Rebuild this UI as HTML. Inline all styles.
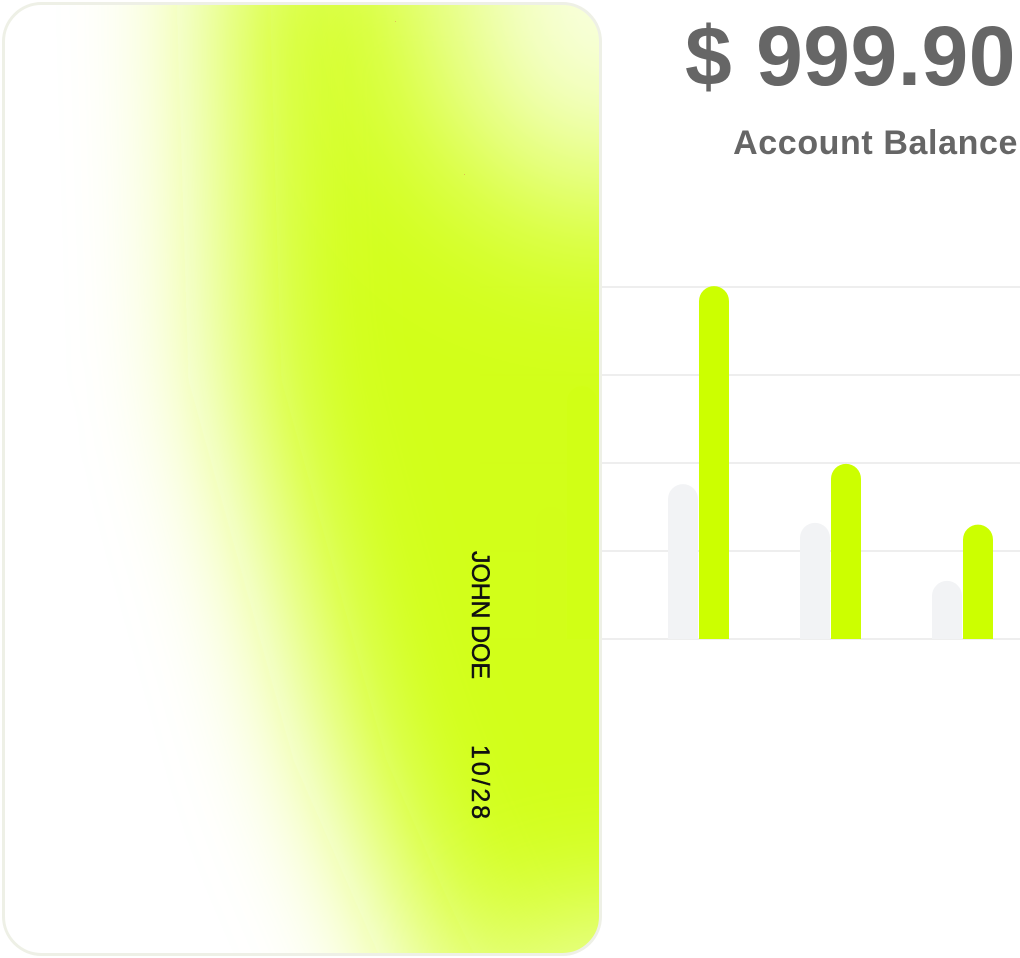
<!DOCTYPE html>
<html><head><meta charset="utf-8"><style>
html,body{margin:0;padding:0;background:#fff;}
body{width:1020px;height:958px;position:relative;overflow:hidden;font-family:"Liberation Sans",sans-serif;}
#amount{position:absolute;right:4px;top:14px;font-size:84px;font-weight:bold;color:#666;line-height:1;white-space:nowrap;letter-spacing:0.5px;}
#label{position:absolute;right:2px;top:126px;font-size:34px;font-weight:bold;color:#666;line-height:1;white-space:nowrap;letter-spacing:0.6px;}
svg{position:absolute;left:0;top:0;display:block;}
</style></head><body>
<div id="amount">$ 999.90</div>
<div id="label">Account Balance</div>
<svg id="chart" width="1020" height="958"></svg>
<svg width="1020" height="958">
<defs>
<clipPath id="cc"><rect x="3.5" y="3.5" width="597" height="951" rx="38"/></clipPath>
<filter id="bl" filterUnits="userSpaceOnUse" x="-500" y="-500" width="2000" height="2000"><feGaussianBlur stdDeviation="70"/></filter>
<filter id="bl2" filterUnits="userSpaceOnUse" x="-500" y="-500" width="2000" height="2000"><feGaussianBlur stdDeviation="90"/></filter>
</defs>
<g clip-path="url(#cc)" opacity="0.985">
<rect x="0" y="0" width="610" height="960" fill="#fff"/>
<polygon points="220,-100 800,-100 800,1000 480,1080 340,760 235,380" fill="#d2ff14" filter="url(#bl)"/>
<ellipse cx="610" cy="0" rx="180" ry="200" fill="#fff" filter="url(#bl2)" opacity="0.9"/>
<ellipse cx="620" cy="990" rx="150" ry="80" fill="#fff" filter="url(#bl)" opacity="0.6"/>
</g>
<rect x="3.5" y="3.5" width="597" height="951" rx="38" fill="none" stroke="#eef0e6" stroke-width="3"/>
<text transform="translate(472,551) rotate(90)" font-family="Liberation Sans" font-size="25" fill="#111" stroke="#111" stroke-width="0.5" textLength="128">JOHN DOE</text>
<text transform="translate(472,745) rotate(90)" font-family="Liberation Sans" font-size="25" fill="#111" stroke="#111" stroke-width="0.5" textLength="74">10/28</text>
</svg>
<script>
const categories=["g1","g2","g3","g4"];
const grayValues=[1.5,1.76,1.32,0.66];
const greenValues=[2.875,4.01,1.99,1.3];
const gridTicks=[0,1,2,3,4];
const NS="http://www.w3.org/2000/svg";
const svg=document.getElementById('chart');
const base=639,unit=88,x0=536,step=132,bw=30;
const y=v=>base-v*unit;
const xg=i=>x0+i*step;
gridTicks.forEach(t=>{
  const l=document.createElementNS(NS,'line');
  
  
  l.setAttribute('x1',480);l.setAttribute('x2',1020);
  l.setAttribute('y1',y(t));l.setAttribute('y2',y(t));
  l.setAttribute('stroke','#eeeeee');l.setAttribute('stroke-width','2');
  svg.appendChild(l);
});
function bar(x,v,color,name){
  const top=y(v),r=bw/2;
  const p=document.createElementNS(NS,'path');
  
  
  p.setAttribute('d',`M${x},${base}V${top+r}A${r},${r} 0 0 1 ${x+bw},${top+r}V${base}Z`);
  p.setAttribute('fill',color);
  svg.appendChild(p);
}
categories.forEach((c,i)=>{
  bar(xg(i),grayValues[i],'#f2f3f5','bar-gray-'+c);
  bar(xg(i)+31,greenValues[i],'#ccff00','bar-green-'+c);
});
</script>
</body></html>
